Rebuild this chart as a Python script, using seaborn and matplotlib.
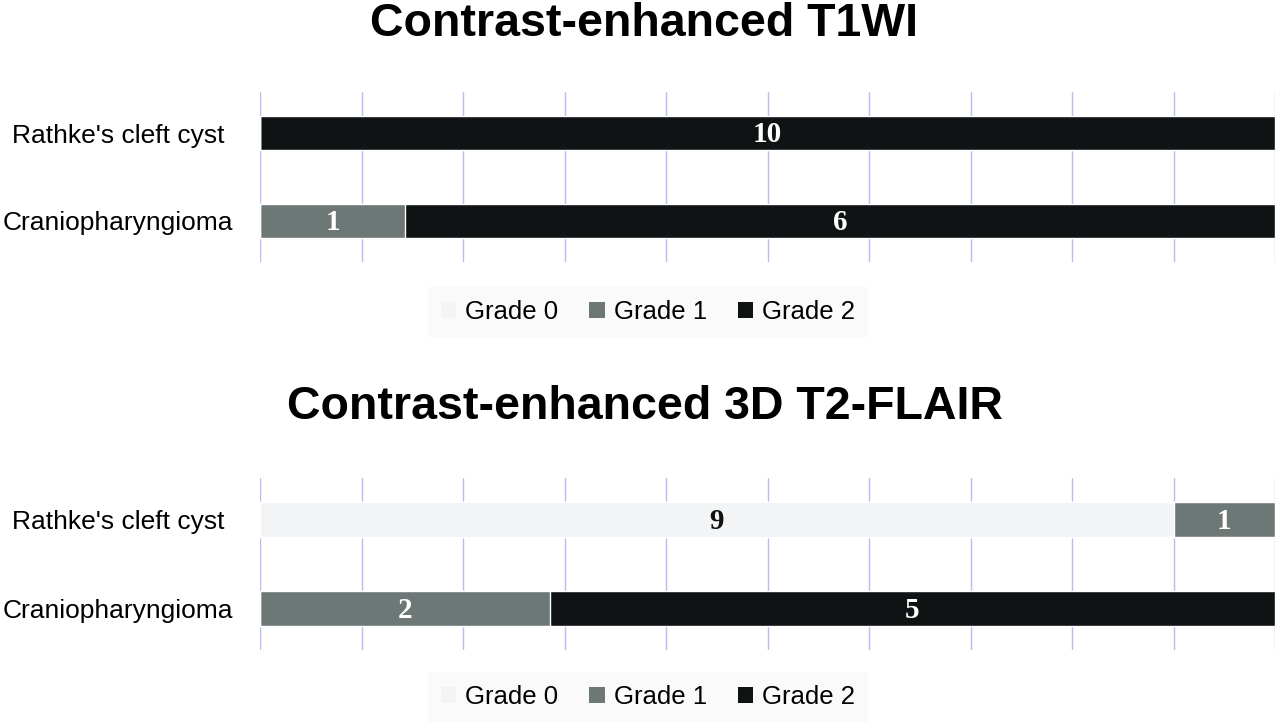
import numpy as np
import pandas as pd
import matplotlib.pyplot as plt
import seaborn as sns
from matplotlib.patches import Patch

sns.set_theme(style="white")
plt.rcParams['font.family'] = ['Liberation Sans', 'DejaVu Sans']
plt.rcParams['text.color'] = 'black'
plt.rcParams['ytick.color'] = 'black'
plt.rcParams['xtick.color'] = 'black'

# data
categories = ["Rathke's cleft cyst", "Craniopharyngioma"]
grades = ["Grade 0", "Grade 1", "Grade 2"]
titles = ["Contrast-enhanced T1WI", "Contrast-enhanced 3D T2-FLAIR"]

t1wi_grade0 = [0, 0]
t1wi_grade1 = [0, 1]
t1wi_grade2 = [10, 6]

flair_grade0 = [9, 0]
flair_grade1 = [1, 2]
flair_grade2 = [0, 5]

colors = ["#f2f4f6", "#6d7876", "#101313"]
text_colors = ["#111111", "white", "white"]


def stacked(ax, g0, g1, g2):
    counts = np.array([g0, g1, g2], dtype=float)  # grade x category
    pct = counts / counts.sum(axis=0) * 100
    cum = np.cumsum(pct, axis=0)
    # draw from the full bar down so the shorter ones sit on top
    for i in [2, 1, 0]:
        df = pd.DataFrame({"cat": categories, "val": cum[i]})
        sns.barplot(data=df, x="val", y="cat", orient="h", color=colors[i],
                    saturation=1, width=0.39, edgecolor="white", linewidth=1,
                    ax=ax, zorder=3)
    # segment labels
    for i in range(3):
        for j in range(len(categories)):
            if counts[i, j] == 0:
                continue
            xc = cum[i, j] - pct[i, j] / 2
            ax.text(xc, j + 0.02, f"{int(counts[i, j])}", ha="center", va="center",
                    color=text_colors[i], fontsize=21, fontweight="bold",
                    family="Liberation Serif", zorder=5)
    ax.set_xlim(0, 100)
    ax.set_ylim(1.47, -0.47)
    ax.set_xticks(np.arange(0, 101, 10))
    ax.set_xticklabels([])
    ax.grid(axis="x", color="#bcbcf0", linewidth=1, zorder=0)
    ax.grid(axis="y", visible=False)
    for s in ax.spines.values():
        s.set_visible(False)
    ax.tick_params(axis="x", length=0)
    ax.tick_params(axis="y", length=0, pad=102, labelsize=19)
    for lab in ax.get_yticklabels():
        lab.set_horizontalalignment("center")
    ax.set_xlabel("")
    ax.set_ylabel("")


fig = plt.figure(figsize=(12.8, 7.23), dpi=100)
W, H = 1280, 723

ax1 = fig.add_axes([260 / W, 1 - 262 / H, 1015 / W, 170 / H])
ax2 = fig.add_axes([260 / W, 1 - 650 / H, 1015 / W, 172 / H])
stacked(ax1, t1wi_grade0, t1wi_grade1, t1wi_grade2)
stacked(ax2, flair_grade0, flair_grade1, flair_grade2)

fig.text(644 / W, 1 - 36 / H, titles[0], ha="center", va="baseline",
         fontsize=33.5, fontweight="bold")
fig.text(645 / W, 1 - 419 / H, titles[1], ha="center", va="baseline",
         fontsize=33.5, fontweight="bold")

handles = [Patch(facecolor=c, edgecolor="none") for c in colors]
for ycen in [312, 697]:
    leg = fig.legend(handles, grades, loc="center", bbox_to_anchor=(648 / W, 1 - ycen / H),
                     ncol=3, frameon=True, fontsize=18.5, handlelength=0.6, handleheight=0.6,
                     columnspacing=1.2, handletextpad=0.35, borderpad=0.5, fancybox=False)
    leg.get_frame().set_facecolor("#f9f9f9")
    leg.get_frame().set_edgecolor("none")

plt.savefig("out.png", dpi=100)
